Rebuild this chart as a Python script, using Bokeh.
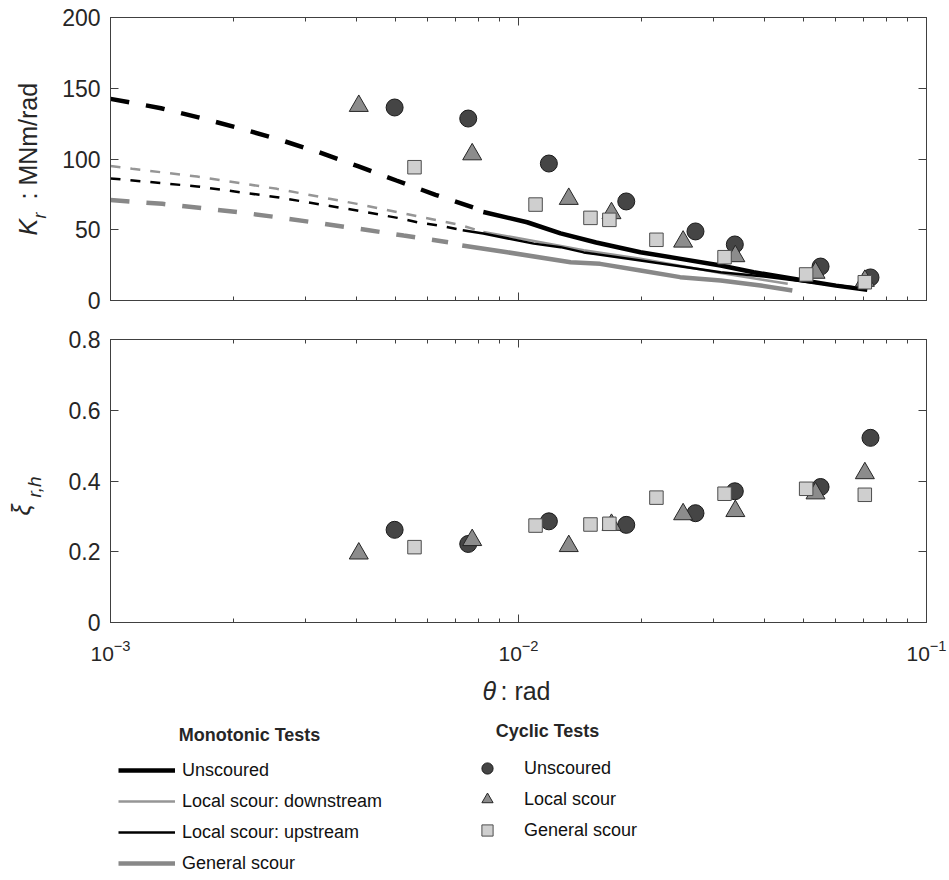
from math import pi
from bokeh.plotting import figure
from bokeh.models import (Range1d, FixedTicker, LogAxis, LinearAxis, Label, Legend,
                          LegendItem, GridBox)
from bokeh.embed import file_html
from bokeh.resources import INLINE

# ---------------- data ----------------
x_ticks = [1e-3, 1e-2, 1e-1]
x_minor_ticks = [2e-3, 3e-3, 4e-3, 5e-3, 6e-3, 7e-3, 8e-3, 9e-3,
                 2e-2, 3e-2, 4e-2, 5e-2, 6e-2, 7e-2, 8e-2, 9e-2]
kr_ticks = [0, 50, 100, 150, 200]
xi_ticks = [0.0, 0.2, 0.4, 0.6, 0.8]
xi_tick_labels = ["0", "0.2", "0.4", "0.6", "0.8"]

# Monotonic tests: extrapolated (dashed) and measured (solid) parts
mono_unscoured_theta_ext = [0.001, 0.00133, 0.00166, 0.00208, 0.0026, 0.00324, 0.00404, 0.00502, 0.00626, 0.0078]
mono_unscoured_kr_ext = [142.5, 135.9, 129.1, 121.6, 113.6, 104.8, 94.9, 84.8, 74.7, 65.5]
mono_unscoured_theta = [0.0082, 0.0105, 0.01268, 0.0155, 0.0199, 0.025, 0.0313, 0.0377, 0.050, 0.060, 0.0716]
mono_unscoured_kr = [62.5, 55.3, 47.4, 41.0, 34.1, 29.4, 24.7, 20.0, 14.1, 10.5, 7.5]

mono_down_theta_ext = [0.001, 0.00113, 0.00163, 0.00256, 0.00402, 0.00505, 0.00715, 0.00798]
mono_down_kr_ext = [95.0, 93.1, 87.6, 78.9, 68.3, 62.4, 53.5, 49.5]
mono_down_theta = [0.0082, 0.0109, 0.01445, 0.0199, 0.0313, 0.040, 0.0457]
mono_down_kr = [48.5, 42.0, 35.5, 29.5, 19.5, 14.5, 11.8]

mono_up_theta_ext = [0.001, 0.00163, 0.00256, 0.00402, 0.00505, 0.00565, 0.00638, 0.0072]
mono_up_kr_ext = [86.3, 80.6, 73.0, 63.6, 58.4, 55.3, 53.0, 50.0]
mono_up_theta = [0.0073, 0.0082, 0.0109, 0.01268, 0.01445, 0.0199, 0.0313, 0.040, 0.050, 0.060, 0.0702]
mono_up_kr = [49.6, 47.3, 40.2, 37.7, 34.0, 28.3, 20.0, 17.0, 13.5, 10.8, 8.5]

mono_general_theta_ext = [0.001, 0.00134, 0.00168, 0.00212, 0.00266, 0.00333, 0.00422, 0.00523, 0.00672]
mono_general_kr_ext = [71.0, 68.3, 65.2, 62.0, 58.2, 54.2, 50.0, 45.9, 41.2]
mono_general_theta = [0.00728, 0.00938, 0.01342, 0.01585, 0.0199, 0.0249, 0.0313, 0.0392, 0.0469]
mono_general_kr = [38.9, 34.1, 27.1, 25.9, 21.2, 16.5, 14.1, 10.6, 7.0]

# Cyclic tests
cyc_unscoured_theta = [0.00497, 0.00753, 0.01187, 0.01837, 0.02715, 0.0339, 0.0550, 0.0729]
cyc_unscoured_kr = [136.4, 128.6, 96.8, 70.0, 48.8, 39.6, 24.0, 16.3]
cyc_unscoured_xi = [0.262, 0.222, 0.286, 0.276, 0.309, 0.371, 0.383, 0.522]

cyc_local_theta = [0.00406, 0.0077, 0.01328, 0.0169, 0.02532, 0.0340, 0.05346, 0.07062]
cyc_local_kr = [137.5, 103.3, 71.8, 61.7, 41.6, 31.3, 19.6, 13.9]
cyc_local_xi = [0.195, 0.233, 0.216, 0.276, 0.306, 0.315, 0.365, 0.422]

cyc_general_theta = [0.00556, 0.01101, 0.01501, 0.0167, 0.02178, 0.03199, 0.0507, 0.0706]
cyc_general_kr = [94.2, 67.8, 58.4, 57.0, 42.9, 30.6, 18.4, 12.9]
cyc_general_xi = [0.213, 0.274, 0.277, 0.279, 0.353, 0.364, 0.378, 0.361]

# ---------------- styles ----------------
FONT = "Liberation Sans"
AX = "#404040"
TXT = "#262626"
C_THICK_BLACK = "#000000"
C_THIN_BLACK = "#000000"
C_THIN_GRAY = "#969696"
C_THICK_GRAY = "#888888"
W_THICK = 4.5
W_THIN = 2.5
DASH_THICK = "19 17"
DASH_THIN = "10 10"

CIRC = dict(marker="circle", size=17, fill_color="#454545", line_color="#1a1a1a", line_width=1)
TRI = dict(marker="triangle", size=19, fill_color="#8c8c8c", line_color="#262626", line_width=1)
SQR = dict(marker="square", size=13.5, fill_color="#cfcfcf", line_color="#4d4d4d", line_width=1)

LW = 56            # width of the y-label column
BL, BR = 54, 23    # borders around the plot frames
PW = 949 - LW      # width of the plot column


def style_axis(ax, font_size, standoff, hide=False):
    ax.major_tick_in = 8
    ax.major_tick_out = 0
    ax.minor_tick_in = 4
    ax.minor_tick_out = 0
    ax.axis_line_color = AX
    ax.major_tick_line_color = AX
    ax.minor_tick_line_color = AX
    ax.major_label_text_font = FONT
    ax.major_label_text_font_size = font_size
    ax.major_label_text_color = None if hide else TXT
    ax.major_label_standoff = standoff


def make_panel(height, yr, yticks, bt, bb, show_x_labels):
    p = figure(width=PW, height=height, x_axis_type="log",
               x_range=Range1d(1e-3, 1e-1), y_range=Range1d(*yr),
               title=None, toolbar_location=None, output_backend="svg",
               min_border_left=BL, min_border_right=BR,
               min_border_top=bt, min_border_bottom=bb)
    p.grid.visible = False
    p.outline_line_color = AX
    p.outline_line_width = 1
    p.xaxis.ticker = FixedTicker(ticks=x_ticks, minor_ticks=x_minor_ticks)
    p.yaxis.ticker = FixedTicker(ticks=yticks)
    if show_x_labels:
        style_axis(p.xaxis[0], "21px", 17)
    else:
        style_axis(p.xaxis[0], "0px", 0, hide=True)
    style_axis(p.yaxis[0], "23px", 10)
    top = LogAxis(ticker=FixedTicker(ticks=x_ticks, minor_ticks=x_minor_ticks))
    style_axis(top, "0px", 0, hide=True)
    right = LinearAxis(ticker=FixedTicker(ticks=yticks))
    style_axis(right, "0px", 0, hide=True)
    p.add_layout(top, "above")
    p.add_layout(right, "right")
    return p


def blank(width, height, bt=0, bb=0, bl=0, br=0):
    f = figure(width=width, height=height, title=None, toolbar_location=None,
               output_backend="svg", min_border_top=bt, min_border_bottom=bb,
               min_border_left=bl, min_border_right=br,
               x_axis_location=None, y_axis_location=None,
               x_range=Range1d(0, 1), y_range=Range1d(0, 1), outline_line_color=None)
    f.grid.visible = False
    return f


def lab(p, x, y, text, size, style="normal", angle=0.0, align="left"):
    p.add_layout(Label(x=x, y=y, x_units="screen", y_units="screen", text=text,
                       angle=angle, text_font=FONT, text_font_size=size,
                       text_font_style=style, text_color=TXT,
                       text_baseline="alphabetic", text_align=align))


# ---------------- top panel: K_r ----------------
p1 = make_panel(320, (0, 200), kr_ticks, 17, 20, False)

p1.line(mono_unscoured_theta_ext, mono_unscoured_kr_ext, line_color=C_THICK_BLACK, line_width=W_THICK, line_dash=DASH_THICK)
p1.line(mono_down_theta_ext, mono_down_kr_ext, line_color=C_THIN_GRAY, line_width=W_THIN, line_dash=DASH_THIN)
p1.line(mono_up_theta_ext, mono_up_kr_ext, line_color=C_THIN_BLACK, line_width=W_THIN, line_dash=DASH_THIN)
p1.line(mono_general_theta_ext, mono_general_kr_ext, line_color=C_THICK_GRAY, line_width=W_THICK, line_dash=DASH_THICK)

p1.line(mono_general_theta, mono_general_kr, line_color=C_THICK_GRAY, line_width=W_THICK)
p1.line(mono_down_theta, mono_down_kr, line_color=C_THIN_GRAY, line_width=W_THIN)
p1.line(mono_up_theta, mono_up_kr, line_color=C_THIN_BLACK, line_width=W_THIN)
p1.line(mono_unscoured_theta, mono_unscoured_kr, line_color=C_THICK_BLACK, line_width=W_THICK)

p1.scatter(cyc_unscoured_theta, cyc_unscoured_kr, **CIRC)
p1.scatter(cyc_local_theta, cyc_local_kr, **TRI)
p1.scatter(cyc_general_theta, cyc_general_kr, **SQR)

# ---------------- bottom panel: damping ----------------
p2 = make_panel(352, (0, 0.8), xi_ticks, 19, 50, True)
p2.yaxis[0].major_label_overrides = {t: s for t, s in zip(xi_ticks, xi_tick_labels)}

p2.scatter(cyc_unscoured_theta, cyc_unscoured_xi, **CIRC)
p2.scatter(cyc_local_theta, cyc_local_xi, **TRI)
p2.scatter(cyc_general_theta, cyc_general_xi, **SQR)

# ---------------- y-label column ----------------
L1 = blank(LW, 320, bt=17, bb=20)
lab(L1, 27, 65, "K", "25px", "italic", pi / 2)
lab(L1, 39, 82, "r", "18px", "italic", pi / 2)
lab(L1, 27, 101, ": MNm/rad", "25px", "normal", pi / 2)

L2 = blank(LW, 352, bt=19, bb=50)
lab(L2, 20, 107, "ξ", "25px", "italic", pi / 2)
lab(L2, 34, 125, "r,h", "19px", "italic", pi / 2)

# ---------------- x label + legends ----------------
p3 = blank(PW, 208, bl=BL, br=BR)
lab(p3, 372, 190, "θ", "25px", "italic")
lab(p3, 390, 190, ": rad", "25px")

r_mu = p3.line(mono_unscoured_theta, mono_unscoured_kr, line_color=C_THICK_BLACK, line_width=4.5, visible=False)
r_md = p3.line(mono_down_theta, mono_down_kr, line_color=C_THIN_GRAY, line_width=2.5, visible=False)
r_mp = p3.line(mono_up_theta, mono_up_kr, line_color=C_THIN_BLACK, line_width=2.5, visible=False)
r_mg = p3.line(mono_general_theta, mono_general_kr, line_color=C_THICK_GRAY, line_width=4.5, visible=False)
r_cu = p3.scatter(cyc_unscoured_theta, cyc_unscoured_kr, visible=False, **CIRC)
r_cl = p3.scatter(cyc_local_theta, cyc_local_kr, visible=False, **TRI)
r_cg = p3.scatter(cyc_general_theta, cyc_general_kr, visible=False, **SQR)

common = dict(padding=0, margin=0, spacing=3, glyph_height=28, label_height=28,
              label_text_font=FONT, label_text_font_size="18px", label_text_color="#111111",
              border_line_color=None, background_fill_alpha=0, orientation="vertical",
              click_policy="none")

leg_mono = Legend(items=[LegendItem(label="Unscoured", renderers=[r_mu]),
                         LegendItem(label="Local scour: downstream", renderers=[r_md]),
                         LegendItem(label="Local scour: upstream", renderers=[r_mp]),
                         LegendItem(label="General scour", renderers=[r_mg])],
                  location=(8, 3), glyph_width=57, label_standoff=7, **common)
leg_cyc = Legend(items=[LegendItem(label="Unscoured", renderers=[r_cu]),
                        LegendItem(label="Local scour", renderers=[r_cl]),
                        LegendItem(label="General scour", renderers=[r_cg])],
                 location=(363, 36), glyph_width=28, label_standoff=23, **common)
p3.add_layout(leg_mono)
p3.add_layout(leg_cyc)

lab(p3, 139, 146, "Monotonic Tests", "18px", "bold", align="center")
lab(p3, 437, 150, "Cyclic Tests", "18px", "bold", align="center")

grid = GridBox(children=[(L1, 0, 0), (p1, 0, 1), (L2, 1, 0), (p2, 1, 1), (p3, 2, 1)])
open("out.html", "w").write(file_html(grid, INLINE))
